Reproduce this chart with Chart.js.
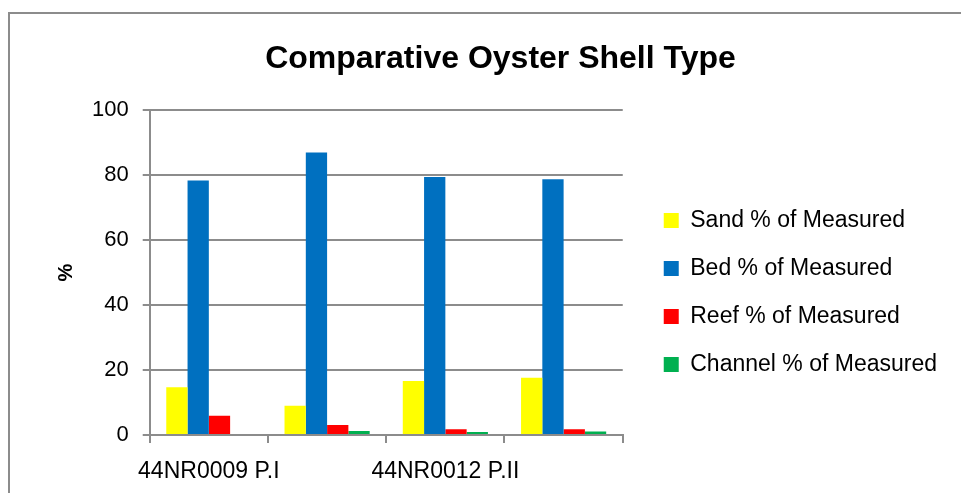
<!DOCTYPE html>
<html>
<head>
<meta charset="utf-8">
<script src="https://cdn.jsdelivr.net/npm/chart.js@4.4.0/dist/chart.umd.min.js"></script>
<style>
    html, body { margin: 0; padding: 0; background: #fff; }
    #wrap { position: relative; width: 961px; height: 493px; }
    #frame {
        position: absolute; left: 8px; top: 12px; right: 0; bottom: 0;
        border-left: 2px solid #8c8c8c; border-top: 2px solid #8c8c8c;
        pointer-events: none;
    }
</style>
</head>
<body>
<div id="wrap">
    <canvas id="chart" width="961" height="493"></canvas>
    <div id="frame"></div>
</div>
<script>
    // Chart data
    const sites = ['44NR0009 P.I', '44NR0009 P.II', '44NR0012 P.II', '44NR0012 P.III'];
    const sandPct = [14.7, 9.0, 16.6, 17.6];
    const bedPct = [78.4, 87.0, 79.5, 78.8];
    const reefPct = [5.9, 3.1, 1.8, 1.8];
    const channelPct = [0, 1.2, 0.9, 1.1];
    const yTicks = [0, 20, 40, 60, 80, 100];

    const fontFamily = '"Liberation Sans", Arial, sans-serif';
    const gridColor = '#8c8c8c';
    const legendGap = 16;
    const legendDrop = 45;

    // leaves a wider gap between the plot and the legend, and drops it a bit
    const legendGapPlugin = {
        id: 'legendGap',
        afterInit(chart) {
            const lg = chart.legend;
            const fit = lg.fit;
            lg.fit = function () { fit.call(this); this.width += legendGap; };
            const draw = lg.draw;
            lg.draw = function (area) {
                this.ctx.save();
                this.ctx.translate(legendGap, legendDrop);
                draw.call(this, area);
                this.ctx.restore();
            };
        }
    };

    document.addEventListener('DOMContentLoaded', () => {
        const ctx = document.getElementById('chart').getContext('2d');
        new Chart(ctx, {
            type: 'bar',
            data: {
                labels: sites,
                datasets: [
                    { label: 'Sand % of Measured', data: sandPct, backgroundColor: '#ffff00' },
                    { label: 'Bed % of Measured', data: bedPct, backgroundColor: '#0070c0' },
                    { label: 'Reef % of Measured', data: reefPct, backgroundColor: '#ff0000' },
                    { label: 'Channel % of Measured', data: channelPct, backgroundColor: '#00b050' }
                ]
            },
            plugins: [legendGapPlugin],
            options: {
                responsive: false,
                animation: false,
                layout: { padding: { left: 54, right: 14, top: 10, bottom: 8 } },
                datasets: { bar: { categoryPercentage: 0.72, barPercentage: 1 } },
                plugins: {
                    title: {
                        display: true,
                        text: 'Comparative Oyster Shell Type',
                        color: '#000',
                        font: { family: fontFamily, size: 32, weight: 'bold' },
                        padding: { top: 30, bottom: 32 }
                    },
                    legend: {
                        position: 'right',
                        align: 'center',
                        maxWidth: 420,
                        labels: {
                            color: '#000',
                            font: { family: fontFamily, size: 23 },
                            boxWidth: 15,
                            boxHeight: 15,
                            padding: 25
                        }
                    },
                    tooltip: { enabled: false }
                },
                scales: {
                    x: {
                        afterFit: axis => { axis.height = 50; },
                        grid: {
                            offset: true,
                            drawOnChartArea: false,
                            color: gridColor,
                            lineWidth: 2,
                            tickLength: 8
                        },
                        border: { color: gridColor, width: 2 },
                        ticks: {
                            color: '#000',
                            font: { family: fontFamily, size: 23 },
                            maxRotation: 0,
                            autoSkip: false,
                            padding: 15,
                            callback: (val, i) => (i % 2 === 0 ? sites[i] : '')
                        }
                    },
                    y: {
                        min: 0,
                        max: 100,
                        afterBuildTicks: axis => { axis.ticks = yTicks.map(v => ({ value: v })); },
                        grid: { color: gridColor, lineWidth: 2, tickLength: 7 },
                        border: { color: gridColor, width: 2 },
                        ticks: {
                            color: '#000',
                            font: { family: fontFamily, size: 22 },
                            padding: 14
                        },
                        title: {
                            display: true,
                            text: '%',
                            color: '#000',
                            font: { family: fontFamily, size: 20, weight: 'bold' },
                            padding: { top: 0, bottom: 0 }
                        }
                    }
                }
            }
        });
    });
</script>
</body>
</html>
